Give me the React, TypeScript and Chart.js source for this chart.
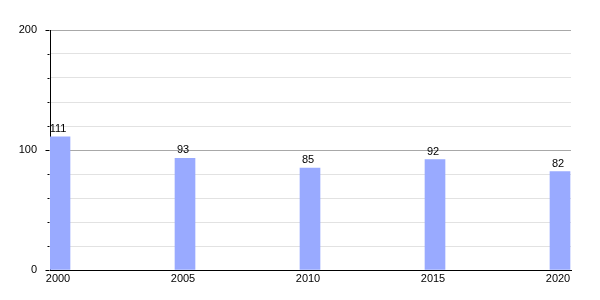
import React, { useEffect, useRef } from "react";
import { Chart, registerables } from "chart.js";

Chart.register(...registerables);

const years = [2000, 2005, 2010, 2015, 2020];
const population = [111, 93, 85, 92, 82];
const yTickLabels = [0, 100, 200];

const barLabelPlugin = {
  id: "barLabels",
  afterDatasetsDraw(chart: any) {
    const ctx = chart.ctx;
    const meta = chart.getDatasetMeta(0);
    ctx.save();
    ctx.fillStyle = "#000";
    ctx.font = '11px "Liberation Sans", Arial, sans-serif';
    ctx.textAlign = "center";
    ctx.textBaseline = "alphabetic";
    meta.data.forEach((bar: any, i: number) => {
      ctx.fillText(String(population[i]), bar.x - 2, bar.y - 5);
    });
    ctx.restore();
  },
  afterDraw(chart: any) {
    const ctx = chart.ctx;
    const y = chart.scales.y;
    const area = chart.chartArea;
    ctx.save();
    ctx.strokeStyle = "#000";
    ctx.lineWidth = 1;
    const left = Math.round(area.left) - 0.5;
    y.ticks.forEach((t: any) => {
      const py = Math.round(y.getPixelForValue(t.value)) + 0.5;
      const len = t.value % 100 === 0 ? 4 : 2;
      ctx.beginPath();
      ctx.moveTo(left - len, py);
      ctx.lineTo(left, py);
      ctx.stroke();
    });
    ctx.restore();
  },
};

export default function App() {
  const ref = useRef<HTMLCanvasElement>(null);
  useEffect(() => {
    document.body.style.margin = "0";
    const chart = new Chart(ref.current as HTMLCanvasElement, {
      type: "bar",
      data: {
        datasets: [
          {
            data: years.map((yr, i) => ({ x: yr, y: population[i] })),
            backgroundColor: "#99aaff",
            borderWidth: 0,
            barThickness: 20,
          },
        ],
      },
      options: {
        animation: false,
        responsive: false,
        layout: { padding: { top: 30, right: 29, left: 0, bottom: 0 } },
        plugins: { legend: { display: false }, tooltip: { enabled: false } },
        scales: {
          x: {
            type: "linear",
            offset: false,
            min: 1999.6,
            max: 2020.44,
            afterBuildTicks: (scale: any) => {
              scale.ticks = years.map((v) => ({ value: v }));
            },
            afterFit: (scale: any) => {
              scale.height = 30;
            },
            grid: { display: false, drawTicks: false, offset: false },
            border: { display: true, color: "#000", width: 1 },
            ticks: {
              color: "#000",
              font: { family: '"Liberation Sans", Arial, sans-serif', size: 11 },
              padding: 2,
              labelOffset: -2,
              maxRotation: 0,
              autoSkip: false,
              callback: (v: any) => String(v),
            },
          },
          y: {
            min: 0,
            max: 200,
            afterFit: (scale: any) => {
              scale.width = 50;
            },
            grid: {
              drawTicks: false,
              color: (c: any) =>
                c.tick && c.tick.value % 100 === 0 ? "#a8a8a8" : "#e2e2e2",
            },
            border: { display: true, color: "#000", width: 1 },
            ticks: {
              stepSize: 20,
              color: "#000",
              padding: 13,
              font: { family: '"Liberation Sans", Arial, sans-serif', size: 11 },
              callback: (v: any) => (yTickLabels.includes(v) ? String(v) : ""),
            },
          },
        },
      },
      plugins: [barLabelPlugin],
    });
    return () => chart.destroy();
  }, []);
  return (
    <div style={{ width: 600, height: 300 }}>
      <canvas ref={ref} width={600} height={300} style={{ display: "block" }} />
    </div>
  );
}
